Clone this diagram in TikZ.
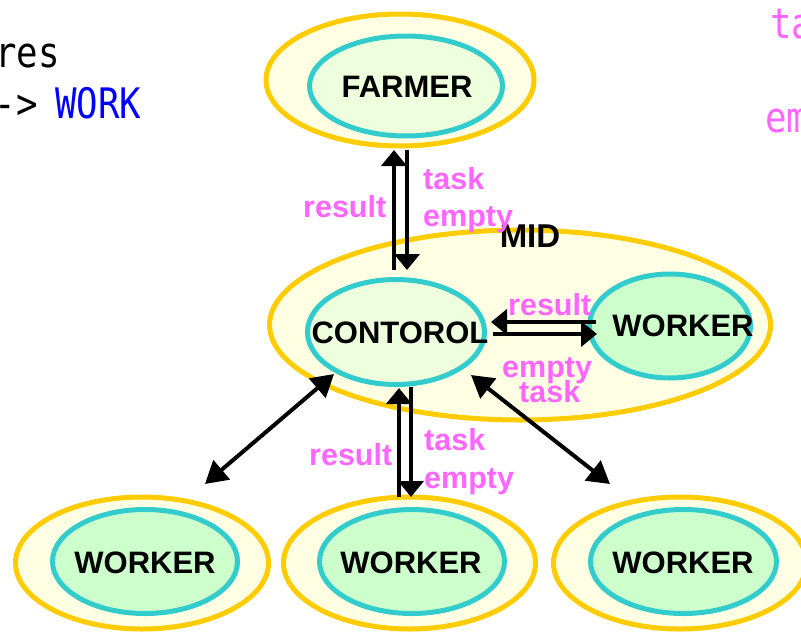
\documentclass[tikz,border=0pt]{standalone}
\usepackage{fontspec}
\setmainfont{Liberation Sans}
\newfontfamily\monofont[FakeStretch=0.85]{DejaVu Sans Mono}
\usetikzlibrary{shapes.geometric,arrows.meta}
\definecolor{outerline}{HTML}{FFCC00}
\definecolor{outerfill}{HTML}{FFFFE4}
\definecolor{innerline}{HTML}{33CCCC}
\definecolor{innerfill}{HTML}{EEFFDD}
\definecolor{workerfill}{HTML}{CCFFCC}
\definecolor{msgpink}{HTML}{FF66FF}
\tikzset{
 outerell/.style={ellipse, draw=outerline, fill=outerfill, line width=5pt, inner sep=0pt},
 innerell/.style={ellipse, draw=innerline, line width=5pt, inner sep=0pt},
 boxtext/.style={font=\bfseries\fontsize{31}{31}\selectfont, inner sep=0pt},
 msg/.style={text=msgpink, font=\bfseries\fontsize{30.5}{30.5}\selectfont, inner sep=0pt, anchor=base west},
 flow/.style={line width=4pt, -{Triangle[length=16pt,width=25pt]}},
 biflow/.style={line width=4pt, {Triangle[length=22pt,width=25pt]}-{Triangle[length=22pt,width=25pt]}},
 codetext/.style={font=\monofont\fontsize{42}{42}\selectfont, inner sep=0pt}
}
\begin{document}
\begin{tikzpicture}[x=1pt,y=-1pt]
\clip (0,0) rectangle (801,632);
% ellipses
\node[outerell, minimum width=268pt, minimum height=132pt] (farmerOut) at (400,80) {};
\node[innerell, fill=innerfill, minimum width=193pt, minimum height=100pt] (farmerIn) at (406,86) {};
\node[outerell, minimum width=501pt, minimum height=190pt] (midOut) at (520,325) {};
\node[innerell, fill=innerfill, minimum width=177pt, minimum height=105pt] (ctlIn) at (396,332) {};
\node[innerell, fill=workerfill, minimum width=161pt, minimum height=104pt] (wrIn) at (670,326) {};
\node[outerell, minimum width=253pt, minimum height=132pt] (w1Out) at (142,563) {};
\node[innerell, fill=workerfill, minimum width=185pt, minimum height=104pt] (w1In) at (145,561.5) {};
\node[outerell, minimum width=252pt, minimum height=132pt] (w2Out) at (409.5,563) {};
\node[innerell, fill=workerfill, minimum width=185pt, minimum height=104pt] (w2In) at (412,561.5) {};
\node[outerell, minimum width=253pt, minimum height=132pt] (w3Out) at (680,563) {};
\node[innerell, fill=workerfill, minimum width=186pt, minimum height=104pt] (w3In) at (683.5,561.5) {};
% box texts
\node[boxtext] (tFarmer) at (407,87) {FARMER};
\node[boxtext, font=\bfseries\fontsize{33}{33}\selectfont] (tMid) at (530,236) {MID};
\node[boxtext] (tCtl) at (400,333) {CONTOROL};
\node[boxtext] (tWr) at (683,326) {WORKER};
\node[boxtext] (tW1) at (145,563) {WORKER};
\node[boxtext] (tW2) at (411,563) {WORKER};
\node[boxtext] (tW3) at (683,563) {WORKER};
% connector end points
\coordinate (fA) at (394,270); \coordinate (fB) at (394,150);
\coordinate (fC) at (407,150); \coordinate (fD) at (407,270);
\coordinate (rA) at (596,322); \coordinate (rB) at (491,322);
\coordinate (rC) at (493,334); \coordinate (rD) at (597,334);
\coordinate (bA) at (399,497); \coordinate (bB) at (399,388);
\coordinate (bC) at (411,387); \coordinate (bD) at (411,497);
\coordinate (dA) at (205,484); \coordinate (dB) at (334,374);
\coordinate (dC) at (471,375); \coordinate (dD) at (610,484);
\draw[flow] (fA) -- (fB);
\draw[flow] (fC) -- (fD);
\draw[flow] (rA) -- (rB);
\draw[flow] (rC) -- (rD);
\draw[flow] (bA) -- (bB);
\draw[flow] (bC) -- (bD);
\draw[biflow] (dA) -- (dB);
\draw[biflow] (dC) -- (dD);
% message labels
\node[msg] (m1) at (303,217) {result};
\node[msg] (m2) at (423,189) {task};
\node[msg] (m3) at (423,226) {empty};
\node[msg] (m4) at (508,315) {result};
\node[msg] (m5) at (502,377) {empty};
\node[msg] (m6) at (519,402) {task};
\node[msg] (m7) at (309,465) {result};
\node[msg] (m8) at (424,450) {task};
\node[msg] (m9) at (424,488) {empty};
% code text
\node[codetext, anchor=base east] (cRes) at (60,67) {res};
\node[codetext, anchor=base east] (cArr) at (38,118) {->};
\node[codetext, anchor=base west, text=blue] (cWork) at (55,118) {WORK};
\node[codetext, anchor=base west, text=msgpink] (cTa) at (770,38) {ta};
\node[codetext, anchor=base west, text=msgpink] (cEm) at (765,132) {em};
\end{tikzpicture}
\end{document}
